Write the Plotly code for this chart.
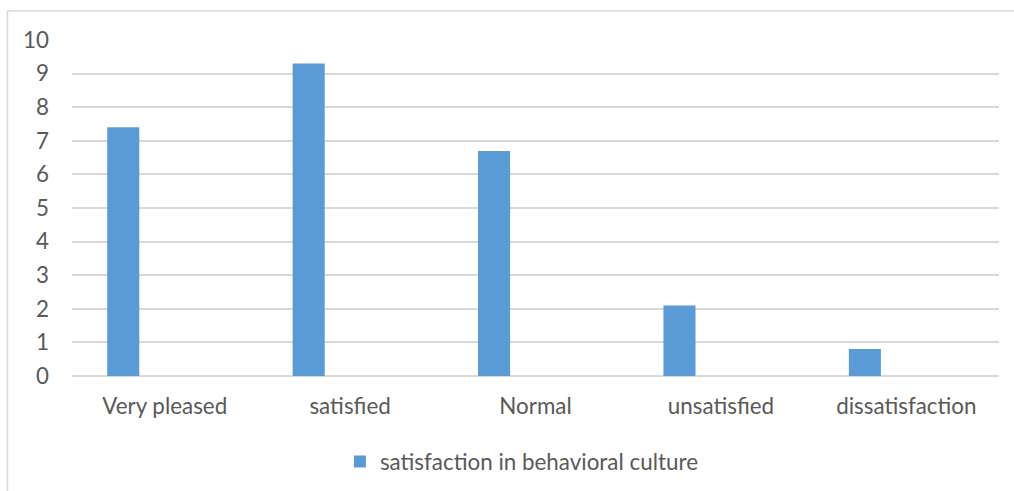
import plotly.graph_objects as go

categories = ["Very pleased", "satisfied", "Normal", "unsatisfied", "dissatisfaction"]
values = [7.4, 9.3, 6.7, 2.1, 0.8]
series_name = "satisfaction in behavioral culture"
y_ticks = list(range(0, 11))

bar_color = "#5B9BD5"
text_color = "#595959"
grid_color = "#D9D9D9"
font_family = "Lato, 'Liberation Sans', Arial, sans-serif"
font_size = 22.4

fig = go.Figure()
fig.add_trace(go.Bar(
    x=categories,
    y=values,
    name=series_name,
    marker=dict(color=bar_color, line=dict(width=0)),
    width=0.173,
    offset=-0.31,
    showlegend=True,
))

fig.update_layout(
    width=1014,
    height=491,
    margin=dict(l=72, r=15, t=40, b=115, autoexpand=False),
    paper_bgcolor="white",
    plot_bgcolor="white",
    font=dict(family=font_family, size=font_size, color=text_color),
    showlegend=True,
    legend=dict(
        orientation="h",
        x=0.289, xanchor="left",
        y=-0.256, yanchor="middle",
        font=dict(family=font_family, size=font_size, color=text_color),
        bgcolor="rgba(0,0,0,0)",
    ),
    xaxis=dict(
        type="category",
        automargin=False,
        showgrid=False,
        showline=False,
        zeroline=False,
        ticks="",
        ticklabelstandoff=15,
        tickfont=dict(family=font_family, size=font_size, color=text_color),
    ),
    yaxis=dict(
        range=[0, 10],
        automargin=False,
        tickvals=y_ticks,
        showgrid=True,
        gridcolor=grid_color,
        gridwidth=1.5,
        zeroline=True,
        zerolinecolor=grid_color,
        zerolinewidth=1.5,
        showline=False,
        ticks="",
        ticklabelstandoff=22,
        tickfont=dict(family=font_family, size=font_size, color=text_color),
    ),
    shapes=[
        # chart frame
        dict(
            type="rect", xref="paper", yref="paper",
            x0=-0.0696, x1=1.2, y0=-0.6, y1=1.0863,
            line=dict(color=grid_color, width=1.5),
            fillcolor="rgba(0,0,0,0)",
            layer="below",
        )
    ],
)

fig.write_html("out.html")
